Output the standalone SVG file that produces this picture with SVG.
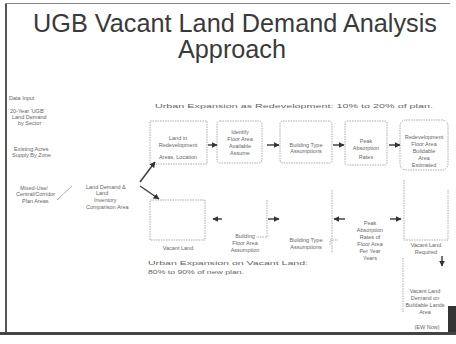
<svg xmlns="http://www.w3.org/2000/svg" width="456" height="344" viewBox="0 0 456 344">
<style>
.t{font-family:"Liberation Sans",Arial,sans-serif;fill:#3a3a3a}
.s{font-family:"Liberation Sans",Arial,sans-serif;font-size:5.5px;fill:#666}
.b{fill:none;stroke:#aaa;stroke-width:1;stroke-dasharray:1.5 1}
.l{fill:none;stroke:#999;stroke-width:0.8;stroke-dasharray:1.5 1}
.a{stroke:#444;stroke-width:1.5;fill:none;marker-end:url(#ah)}
</style>
<defs>
<marker id="ah" viewBox="0 0 10 10" refX="9" refY="5" markerWidth="4" markerHeight="4" orient="auto"><path d="M0,0L10,5L0,10z" fill="#333"/></marker>
</defs>
<rect width="456" height="344" fill="#fff"/>
<rect x="5" y="3" width="2" height="330" fill="#555"/>
<rect x="5" y="3" width="445" height="1" fill="#888"/>
<rect x="0" y="332" width="456" height="3" fill="#444"/>
<rect x="448" y="306" width="8" height="26" fill="#333"/>
<g id="title">
<text class="t" x="235" y="32" font-size="25" text-anchor="middle" textLength="404" lengthAdjust="spacingAndGlyphs">UGB Vacant Land Demand Analysis</text>
<text class="t" x="232" y="58" font-size="25" text-anchor="middle" textLength="108" lengthAdjust="spacingAndGlyphs">Approach</text>
</g>
<g id="inputs">
<text class="s" x="9" y="100">Data Input</text>
<text class="s" x="10" y="113">20-Year 'UGB'</text>
<text class="s" x="12" y="119">Land Demand</text>
<text class="s" x="18" y="125">by Sector</text>
<text class="s" x="14" y="151">Existing Acres</text>
<text class="s" x="12" y="157">Supply By Zone</text>
<text class="s" x="20" y="190">Mixed-Use/</text>
<text class="s" x="16" y="196">Central/Corridor</text>
<text class="s" x="22" y="203">Plan Areas</text>
<line x1="57" y1="200" x2="72" y2="186" stroke="#999" stroke-width="0.8"/>
</g>
<g id="compare">
<text class="s" x="86" y="189">Land Demand &amp;</text>
<text class="s" x="96" y="195">Land</text>
<text class="s" x="94" y="202">Inventory</text>
<text class="s" x="86" y="209">Comparison Area</text>
</g>
<g id="labels">
<text class="s" x="155" y="108" font-size="6.5" textLength="278" lengthAdjust="spacingAndGlyphs">Urban Expansion as Redevelopment:  10% to 20% of plan.</text>
<text class="s" x="148" y="265" font-size="7" textLength="160" lengthAdjust="spacingAndGlyphs">Urban Expansion on Vacant Land:</text>
<text class="s" x="148" y="274" font-size="7" textLength="96" lengthAdjust="spacingAndGlyphs">80% to 90% of new plan.</text>
</g>
<g id="top1"><rect class="b" x="150" y="121" width="57" height="43"/>
<text class="s" x="178" y="140" text-anchor="middle">Land in</text><text class="s" x="178" y="147" text-anchor="middle">Redevelopment</text><text class="s" x="178" y="159" text-anchor="middle">Areas, Location</text></g>
<g id="top2"><rect class="b" x="217" y="121" width="45" height="42" rx="3"/>
<text class="s" x="240" y="134" text-anchor="middle">Identify</text><text class="s" x="240" y="141" text-anchor="middle">Floor Area</text><text class="s" x="240" y="148" text-anchor="middle">Available</text><text class="s" x="240" y="155" text-anchor="middle">Assume</text></g>
<g id="top3"><rect class="b" x="280" y="121" width="52" height="42" rx="3"/>
<text class="s" x="306" y="147" text-anchor="middle">Building Type</text><text class="s" x="306" y="153" text-anchor="middle">Assumptions</text></g>
<g id="top4"><rect class="b" x="345" y="121" width="42" height="44" rx="2"/>
<text class="s" x="366" y="143" text-anchor="middle">Peak</text><text class="s" x="366" y="150" text-anchor="middle">Absorption</text><text class="s" x="366" y="159" text-anchor="middle">Rates</text></g>
<g id="top5"><rect class="b" x="400" y="120" width="48" height="50" rx="6"/>
<text class="s" x="424" y="139" text-anchor="middle">Redevelopment</text><text class="s" x="424" y="146" text-anchor="middle">Floor Area</text><text class="s" x="424" y="153" text-anchor="middle">Buildable</text><text class="s" x="424" y="160" text-anchor="middle">Area</text><text class="s" x="424" y="167" text-anchor="middle">Estimated</text></g>
<g id="low1"><path class="b" d="M150,200H205V240H150Z"/>
<text class="s" x="178" y="250" text-anchor="middle">Vacant Land</text></g>
<g id="low2"><path class="l" d="M267,200V237H256"/>
<text class="s" x="245" y="238" text-anchor="middle">Building</text><text class="s" x="245" y="245" text-anchor="middle">Floor Area</text><text class="s" x="245" y="252" text-anchor="middle">Assumption</text></g>
<g id="low3"><path class="l" d="M330,245V240H338"/>
<text class="s" x="306" y="242" text-anchor="middle">Building Type</text><text class="s" x="306" y="249" text-anchor="middle">Assumptions</text></g>
<g id="low4"><path class="l" d="M332,190V253"/>
<text class="s" x="370" y="225" text-anchor="middle">Peak</text><text class="s" x="370" y="232" text-anchor="middle">Absorption</text><text class="s" x="370" y="239" text-anchor="middle">Rates of</text><text class="s" x="370" y="246" text-anchor="middle">Floor Area</text><text class="s" x="370" y="253" text-anchor="middle">Per Year</text><text class="s" x="370" y="260" text-anchor="middle">Years</text></g>
<g id="low5"><path class="l" d="M404,180V240H448V190"/>
<text class="s" x="426" y="247" text-anchor="middle">Vacant Land</text><text class="s" x="426" y="254" text-anchor="middle">Required</text></g>
<g id="final"><path class="l" d="M403,258V312"/>
<text class="s" x="425" y="293" text-anchor="middle">Vacant Land</text><text class="s" x="425" y="300" text-anchor="middle">Demand on</text><text class="s" x="425" y="307" text-anchor="middle">Buildable Lands</text><text class="s" x="425" y="314" text-anchor="middle">Area</text>
<text class="s" x="427" y="329" text-anchor="middle">(EW Now)</text></g>
<g id="connectors">
<path class="a" d="M140,182L155,162"/>
<path class="a" d="M140,186L159,199"/>
<path class="a" d="M208,145H217"/>
<path class="a" d="M267,145H279"/>
<path class="a" d="M333,145H344"/>
<path class="a" d="M389,145H400"/>
<path class="a" d="M222,219H213"/>
<path class="a" d="M268,219H279"/>
<path class="a" d="M345,219H334"/>
<path class="a" d="M390,219H401"/>
<path class="a" d="M442,256V266"/>
</g>
</svg>
